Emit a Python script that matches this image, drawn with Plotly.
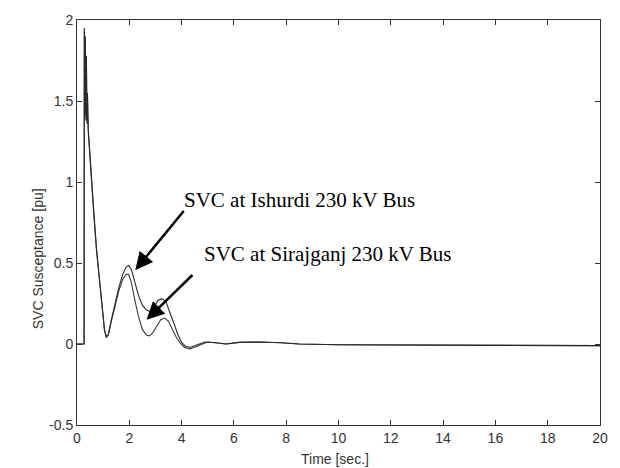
import plotly.graph_objects as go

# Time axis (s) and SVC susceptance (pu)
t_ish = [0, 0.27, 0.28, 0.30, 0.32, 0.34, 0.36, 0.38, 0.40, 0.43, 0.48, 0.56, 0.65, 0.75, 0.87,
         0.97, 1.05, 1.12, 1.2, 1.3, 1.45, 1.6, 1.75, 1.88, 1.97, 2.08, 2.2, 2.35, 2.5, 2.65,
         2.8, 2.95, 3.1, 3.25, 3.4, 3.55, 3.7, 3.85, 4.0, 4.15, 4.35, 4.6, 4.9, 5.3, 5.7,
         6.2, 7.0, 7.8, 8.5, 10, 12, 14, 16, 18, 20]
b_ish = [0, 0, 1.95, 1.45, 1.90, 1.40, 1.78, 1.38, 1.55, 1.33, 1.20, 1.00, 0.80, 0.58, 0.38,
         0.20, 0.09, 0.045, 0.06, 0.14, 0.25, 0.35, 0.43, 0.475, 0.485, 0.46, 0.39, 0.30, 0.24, 0.21,
         0.20, 0.23, 0.27, 0.28, 0.26, 0.20, 0.13, 0.06, 0.01, -0.015, -0.02, -0.005, 0.012, 0.008, 0.0,
         0.01, 0.012, 0.008, 0.0, -0.005, -0.006, -0.005, -0.008, -0.009, -0.01]

t_sir = [0, 0.27, 0.28, 0.30, 0.32, 0.34, 0.36, 0.38, 0.40, 0.43, 0.48, 0.56, 0.65, 0.75, 0.87,
         0.97, 1.05, 1.12, 1.2, 1.3, 1.45, 1.6, 1.75, 1.88, 1.97, 2.08, 2.2, 2.35, 2.5, 2.65,
         2.77, 2.9, 3.05, 3.2, 3.35, 3.5, 3.65, 3.8, 3.95, 4.1, 4.3, 4.5, 4.8, 5.0, 5.3, 5.7,
         6.2, 7.0, 7.8, 8.5, 10, 12, 14, 16, 18, 20]
b_sir = [0, 0, 1.93, 1.42, 1.86, 1.38, 1.74, 1.36, 1.52, 1.31, 1.18, 0.98, 0.78, 0.57, 0.37,
         0.19, 0.085, 0.04, 0.055, 0.13, 0.24, 0.33, 0.40, 0.43, 0.43, 0.38, 0.28, 0.17, 0.09, 0.055,
         0.05, 0.07, 0.11, 0.15, 0.16, 0.14, 0.09, 0.04, 0.005, -0.02, -0.03, -0.02, 0.0, 0.012, 0.008, 0.0,
         0.01, 0.012, 0.008, 0.0, -0.005, -0.006, -0.005, -0.008, -0.009, -0.01]

x_ticks = [0, 2, 4, 6, 8, 10, 12, 14, 16, 18, 20]
y_ticks = [-0.5, 0, 0.5, 1, 1.5, 2]
y_tick_text = ["-0.5", "0", "0.5", "1", "1.5", "2"]

label_ish = "SVC at Ishurdi 230 kV Bus"
label_sir = "SVC at Sirajganj 230 kV Bus"

fig = go.Figure()
fig.add_trace(go.Scatter(x=t_sir, y=b_sir, mode="lines",
                         line=dict(color="#3a3a3a", width=1.1), showlegend=False))
fig.add_trace(go.Scatter(x=t_ish, y=b_ish, mode="lines",
                         line=dict(color="#2a2a2a", width=1.1), showlegend=False))

axis_common = dict(showline=True, linecolor="#333", linewidth=1, mirror="ticks",
                   ticks="inside", ticklen=5, tickcolor="#333", showgrid=False,
                   zeroline=False, tickfont=dict(family="Liberation Sans, Arial", size=14, color="#333"))

fig.update_xaxes(range=[0, 20], tickvals=x_ticks, ticktext=[str(v) for v in x_ticks], **axis_common)
fig.update_yaxes(range=[-0.5, 2], tickvals=y_ticks, ticktext=y_tick_text, **axis_common)

serif = dict(family="Liberation Serif, Times New Roman", size=21, color="#000")
fig.add_annotation(x=4.02, y=0.89, text=label_ish, showarrow=False, xanchor="left",
                   yanchor="middle", font=serif)
fig.add_annotation(x=4.77, y=0.555, text=label_sir, showarrow=False, xanchor="left",
                   yanchor="middle", font=serif)

# arrows
fig.add_annotation(x=2.23, y=0.457, ax=4.13, ay=0.83, xref="x", yref="y", axref="x", ayref="y",
                   text="", showarrow=True, arrowhead=2, arrowsize=1.4, arrowwidth=2.5, arrowcolor="#000")
fig.add_annotation(x=2.66, y=0.15, ax=4.47, ay=0.435, xref="x", yref="y", axref="x", ayref="y",
                   text="", showarrow=True, arrowhead=2, arrowsize=1.4, arrowwidth=2.5, arrowcolor="#000")

# axis titles
fig.add_annotation(x=-0.074, y=0.41, xref="paper", yref="paper", text="SVC Susceptance [pu]",
                   textangle=-90, showarrow=False, xanchor="center", yanchor="middle",
                   font=dict(family="Liberation Sans, Arial", size=14, color="#333"))
fig.add_annotation(x=0.494, y=-0.083, xref="paper", yref="paper", text="Time [sec.]",
                   showarrow=False, xanchor="center", yanchor="middle",
                   font=dict(family="Liberation Sans, Arial", size=14, color="#333"))

fig.update_layout(width=620, height=468, margin=dict(l=77, r=15, t=15, b=43),
                  paper_bgcolor="white", plot_bgcolor="white")

fig.write_html("out.html")
